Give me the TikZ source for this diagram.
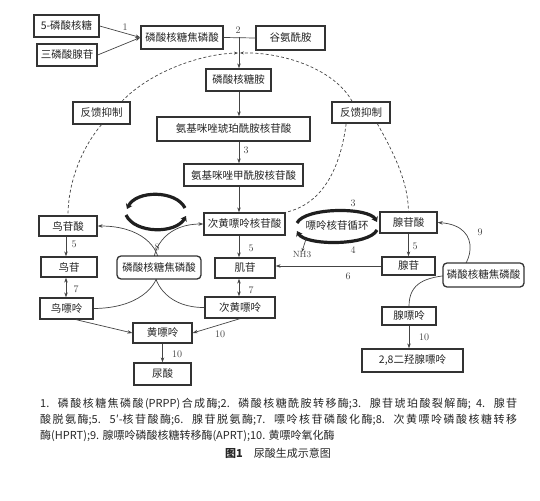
\documentclass[tikz,border=0pt]{standalone}
\usepackage{fontspec}
\newfontfamily\cjk{Noto Sans CJK SC}
\usetikzlibrary{arrows.meta,calc}
\XeTeXlinebreaklocale "zh"
\XeTeXlinebreakskip=0pt plus 1pt
\definecolor{ln}{HTML}{444444}
\definecolor{bx}{HTML}{333333}
\definecolor{tx}{HTML}{262626}
\pgfdeclarelayer{bg}
\pgfsetlayers{bg,main}
\begin{document}
\begin{tikzpicture}[x=1pt,y=-1pt,
  box/.style={draw=bx, line width=1.3pt, fill=white, inner sep=0pt, text=tx,
    font=\cjk\fontsize{10.5}{12}\selectfont},
  rbox/.style={box, rounded corners=4pt},
  conn/.style={draw=ln, line width=0.7pt},
  arr/.style={conn, -{Stealth[length=5pt,width=3.5pt]}},
  darr/.style={conn, {Stealth[length=5pt,width=3.5pt]}-{Stealth[length=5pt,width=3.5pt]}},
  fb/.style={conn, dash pattern=on 3pt off 2.2pt},
  num/.style={font=\fontsize{10}{12}\selectfont, text=ln, inner sep=0pt},
  cycarc/.style={draw=black!88, line width=3.2pt, -{Stealth[length=5pt,width=7pt]}},
  plain/.style={inner sep=0pt, text=tx, font=\cjk\fontsize{10.5}{12}\selectfont}]
\useasboundingbox (0,0) rectangle (540,500);
% boxes
\node[box, minimum width=65pt, minimum height=22pt] (r5p) at (66.5,26) {5-磷酸核糖};
\node[box, minimum width=60pt, minimum height=22pt] (atp) at (67,55) {三磷酸腺苷};
\node[box, minimum width=82pt, minimum height=23pt] (prpp1) at (182,37.5) {磷酸核糖焦磷酸};
\node[box, minimum width=69pt, minimum height=24pt] (gln) at (290.5,38) {谷氨酰胺};
\node[box, minimum width=65pt, minimum height=22pt] (pra) at (238.5,80) {磷酸核糖胺};
\node[box, minimum width=153pt, minimum height=24pt] (saicar) at (233.5,129) {氨基咪唑琥珀酰胺核苷酸};
\node[box, minimum width=119pt, minimum height=22pt] (aicar) at (243.5,175) {氨基咪唑甲酰胺核苷酸};
\node[box, minimum width=57pt, minimum height=22pt] (fb1) at (101.5,113) {反馈抑制};
\node[box, minimum width=58pt, minimum height=21pt] (fb2) at (361,112.5) {反馈抑制};
\node[box, minimum width=81pt, minimum height=22pt] (imp) at (244.5,224) {次黄嘌呤核苷酸};
\node[box, minimum width=58pt, minimum height=20pt] (gmp) at (68,226) {鸟苷酸};
\node[box, minimum width=56pt, minimum height=20pt] (guo) at (69,267) {鸟苷};
\node[box, minimum width=53pt, minimum height=21pt] (gua) at (66.5,308.5) {鸟嘌呤};
\node[rbox, minimum width=84pt, minimum height=23pt] (prpp2) at (159,267.5) {磷酸核糖焦磷酸};
\node[box, minimum width=60pt, minimum height=20pt] (ino) at (245,268) {肌苷};
\node[box, minimum width=70pt, minimum height=21pt] (hyp) at (240,307.5) {次黄嘌呤};
\node[box, minimum width=59pt, minimum height=20pt] (xan) at (162.5,333) {黄嘌呤};
\node[box, minimum width=57pt, minimum height=22pt] (uric) at (162.5,374) {尿酸};
\node[box, minimum width=57pt, minimum height=21pt] (amp) at (408.5,222.5) {腺苷酸};
\node[box, minimum width=53pt, minimum height=18pt] (ado) at (408.5,266) {腺苷};
\node[rbox, minimum width=81pt, minimum height=24pt] (prpp3) at (483.5,275) {磷酸核糖焦磷酸};
\node[box, minimum width=54pt, minimum height=18pt] (ade) at (409,316) {腺嘌呤};
\node[box, minimum width=101pt, minimum height=23pt] (dha) at (412.5,360.5) {2,8二羟腺嘌呤};
\node[plain] (cyc) at (337,226) {嘌呤核苷循环};
\node[num, font=\fontsize{9}{10}\selectfont] (nh3) at (302,255) {NH3};
% helper coordinates
\coordinate (vx) at (239,0);
\coordinate (gx) at (66,0);
\coordinate (ax) at (408.5,0);
\coordinate (fbp) at (239,53);
% connectors
\draw[arr] (r5p.east) -- (prpp1.west);
\draw[arr] (atp.east) -- (prpp1.west);
\draw[conn] (prpp1.east) -- (gln.west);
\draw[arr] (prpp1.east -| vx) -- (pra.north -| vx);
\draw[arr] (pra.south -| vx) -- (saicar.north -| vx);
\draw[arr] (saicar.south -| vx) -- (aicar.north -| vx);
\draw[arr] (aicar.south -| vx) -- (imp.north -| vx);
\draw[arr] (imp.south -| vx) -- (ino.north -| vx);
\draw[darr] (ino.south -| vx) -- (hyp.north -| vx);
\draw[arr] (gmp.south -| gx) -- (guo.north -| gx);
\draw[darr] (guo.south -| gx) -- (gua.north -| gx);
\draw[arr] (amp.south -| ax) -- (ado.north -| ax);
\draw[arr] (ado.west) -- (ino.east |- ado.west);
\draw[arr] ($(gua.south)!0.35!(gua.south east)$) -- (xan.west);
\draw[arr] (hyp.south) -- (xan.east);
\draw[arr] (xan.south) -- (uric.north);
\draw[arr] (ade.south) -- (ade.south |- dha.north);
% feedback (dashed)
\draw[fb, -{Stealth[length=4pt,width=3pt]}] ($(fb1.north)!0.7!(fb1.north east)$) .. controls (150,72) and (200,54) .. ([xshift=-1pt]fbp);
\draw[fb, -{Stealth[length=4pt,width=3pt]}] ($(fb2.north)!0.3!(fb2.north west)$) .. controls (335,70) and (285,52) .. ([xshift=1pt]fbp);
\draw[fb] (fb1.south) .. controls (80,150) and (68,185) .. (gmp.north);
\draw[fb] ($(fb2.south)!0.5!(fb2.south west)$) .. controls (340,170) and (322,204) .. (imp.north east);
\draw[fb] ($(fb2.south)!0.55!(fb2.south east)$) .. controls (392,150) and (408,180) .. (amp.north);
% salvage curves behind PRPP nodes
\begin{pgfonlayer}{bg}
\draw[arr] (gua.east) .. controls (180,308) and (180,226) .. (gmp.east);
\draw[arr] (hyp.west) .. controls (137,308) and (137,224) .. (imp.west);
\draw[conn] (ade.north) .. controls (409,283) and (425,277) .. (452,275);
\draw[arr] (452,275) .. controls (470,272) and (486,226) .. (amp.east);
\end{pgfonlayer}
% cycles
\draw[cycarc] (185,208) .. controls (176,190) and (136,190) .. (127,209);
\draw[cycarc] (126,215) .. controls (135,234) and (176,234) .. (186,216);
\draw[cycarc] (297,223) .. controls (305,207) and (369,207) .. (377,222);
\draw[cycarc] (377,230) .. controls (369,246) and (305,246) .. (297,231);
\draw[conn, -{Stealth[length=3.5pt,width=3pt]}] (306,239) -- (nh3.north);
% numbers
\node[num] at (125,27) {1};
\node[num] at (238,30) {2};
\node[num] at (246,150) {3};
\node[num] at (353,203) {3};
\node[num] at (353,250) {4};
\node[num] at (74,244) {5};
\node[num] at (251,248) {5};
\node[num] at (415,246) {5};
\node[num] at (348,276) {6};
\node[num] at (76,289) {7};
\node[num] at (251,290) {7};
\node[num] at (157,247) {8};
\node[num] at (480,232) {9};
\node[num] at (220,334) {10};
\node[num] at (177,354) {10};
\node[num] at (424,337) {10};
% caption
\node[anchor=north west, text width=477pt, align=justify, inner sep=0pt, text=tx,
  font=\cjk\fontsize{11}{16}\selectfont] (cap) at (40,398)
  {1. 磷酸核糖焦磷酸(PRPP)合成酶;2. 磷酸核糖酰胺转移酶;3. 腺苷琥珀酸裂解酶; 4. 腺苷\linebreak
   酸脱氨酶;5. 5′-核苷酸酶;6. 腺苷脱氨酶;7. 嘌呤核苷磷酸化酶;8. 次黄嘌呤磷酸核糖转移\linebreak
   酶(HPRT);9. 腺嘌呤磷酸核糖转移酶(APRT);10. 黄嘌呤氧化酶};
\node[plain, font=\cjk\fontsize{11}{13}\selectfont] (title) at (278,453) {\textbf{图1}\quad 尿酸生成示意图};
\end{tikzpicture}
\end{document}
